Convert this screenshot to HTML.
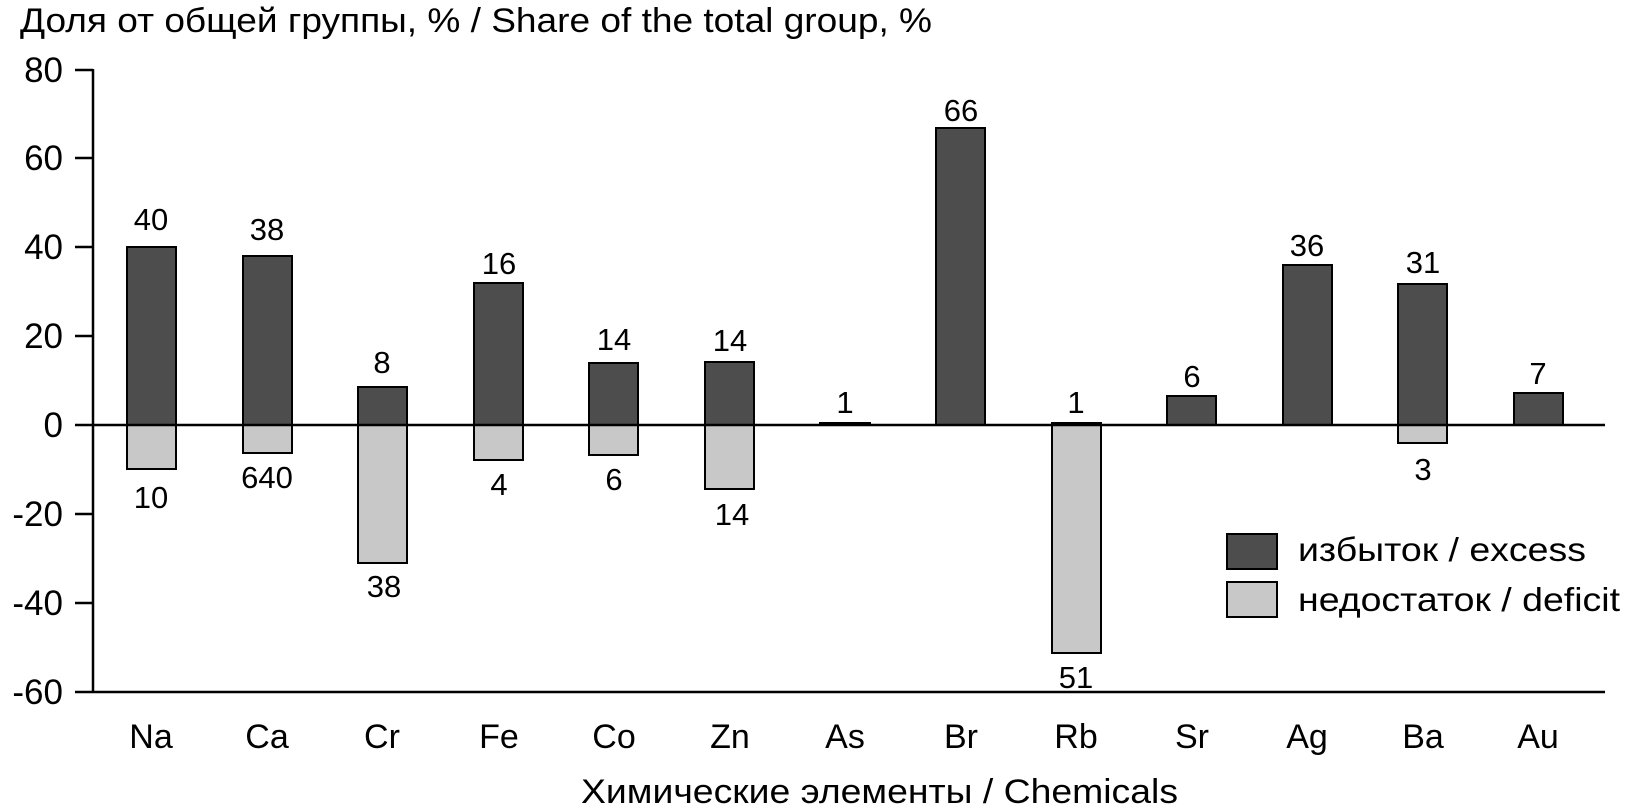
<!DOCTYPE html>
<html><head><meta charset="utf-8"><style>
html,body{margin:0;padding:0;background:#fff;}
svg{display:block;}
text{font-family:"Liberation Sans",Arial,sans-serif;fill:#000;}
</style></head><body>
<svg width="1629" height="808" viewBox="0 0 1629 808" xmlns="http://www.w3.org/2000/svg">
<text x="20" y="32" font-size="34" textLength="912" lengthAdjust="spacingAndGlyphs">Доля от общей группы, % / Share of the total group, %</text>
<g font-size="35" text-anchor="end">
<text x="63" y="82">80</text>
<text x="63" y="170">60</text>
<text x="63" y="259">40</text>
<text x="63" y="348">20</text>
<text x="63" y="437">0</text>
<text x="63" y="526">-20</text>
<text x="63" y="615">-40</text>
<text x="63" y="704">-60</text>
</g>
<g stroke="#000" stroke-width="2.5">
<line x1="93" y1="69" x2="93" y2="693"/>
<line x1="75" y1="70" x2="93" y2="70"/>
<line x1="75" y1="158" x2="93" y2="158"/>
<line x1="75" y1="247" x2="93" y2="247"/>
<line x1="75" y1="336" x2="93" y2="336"/>
<line x1="75" y1="514" x2="93" y2="514"/>
<line x1="75" y1="603" x2="93" y2="603"/>
<line x1="75" y1="692" x2="1605" y2="692"/>
</g>
<g stroke="#000" stroke-width="2" fill="#4d4d4d">
<rect x="127" y="247" width="49" height="178"/>
<rect x="243" y="256" width="49" height="169"/>
<rect x="358" y="387" width="49" height="38"/>
<rect x="474" y="283" width="49" height="142"/>
<rect x="589" y="363" width="49" height="62"/>
<rect x="705" y="362" width="49" height="63"/>
<rect x="820" y="423" width="50" height="2"/>
<rect x="936" y="128" width="49" height="297"/>
<rect x="1167" y="396" width="49" height="29"/>
<rect x="1283" y="265" width="49" height="160"/>
<rect x="1398" y="284" width="49" height="141"/>
<rect x="1514" y="393" width="49" height="32"/>
</g>
<g stroke="#000" stroke-width="2" fill="#c8c8c8">
<rect x="127" y="425" width="49" height="44"/>
<rect x="243" y="425" width="49" height="28"/>
<rect x="358" y="425" width="49" height="138"/>
<rect x="474" y="425" width="49" height="35"/>
<rect x="589" y="425" width="49" height="30"/>
<rect x="705" y="425" width="49" height="64"/>
<rect x="1052" y="423" width="49" height="230"/>
<rect x="1398" y="425" width="49" height="18"/>
</g>
<line x1="75" y1="425" x2="1605" y2="425" stroke="#000" stroke-width="2.5"/>
<g font-size="31" text-anchor="middle">
<text x="151" y="230">40</text>
<text x="267" y="240">38</text>
<text x="382" y="373">8</text>
<text x="499" y="274">16</text>
<text x="614" y="350">14</text>
<text x="730" y="351">14</text>
<text x="845" y="413">1</text>
<text x="961" y="121">66</text>
<text x="1076" y="413">1</text>
<text x="1192" y="387">6</text>
<text x="1307" y="256">36</text>
<text x="1423" y="273">31</text>
<text x="1538" y="384">7</text>
<text x="151" y="508">10</text>
<text x="267" y="488">640</text>
<text x="384" y="597">38</text>
<text x="499" y="495">4</text>
<text x="614" y="490">6</text>
<text x="732" y="525">14</text>
<text x="1076" y="688">51</text>
<text x="1423" y="480">3</text>
</g>
<g font-size="34" text-anchor="middle">
<text x="151" y="748">Na</text>
<text x="267" y="748">Ca</text>
<text x="382" y="748">Cr</text>
<text x="499" y="748">Fe</text>
<text x="614" y="748">Co</text>
<text x="730" y="748">Zn</text>
<text x="845" y="748">As</text>
<text x="961" y="748">Br</text>
<text x="1076" y="748">Rb</text>
<text x="1192" y="748">Sr</text>
<text x="1307" y="748">Ag</text>
<text x="1423" y="748">Ba</text>
<text x="1538" y="748">Au</text>
</g>
<text x="581" y="803" font-size="34" textLength="597" lengthAdjust="spacingAndGlyphs">Химические элементы / Chemicals</text>
<rect x="1227" y="534" width="50" height="35" fill="#4d4d4d" stroke="#000" stroke-width="2"/>
<rect x="1227" y="582" width="50" height="35" fill="#c8c8c8" stroke="#000" stroke-width="2"/>
<text x="1298" y="561" font-size="33" textLength="288" lengthAdjust="spacingAndGlyphs">избыток / excess</text>
<text x="1298" y="611" font-size="33" textLength="322" lengthAdjust="spacingAndGlyphs">недостаток / deficit</text>
</svg>
</body></html>
